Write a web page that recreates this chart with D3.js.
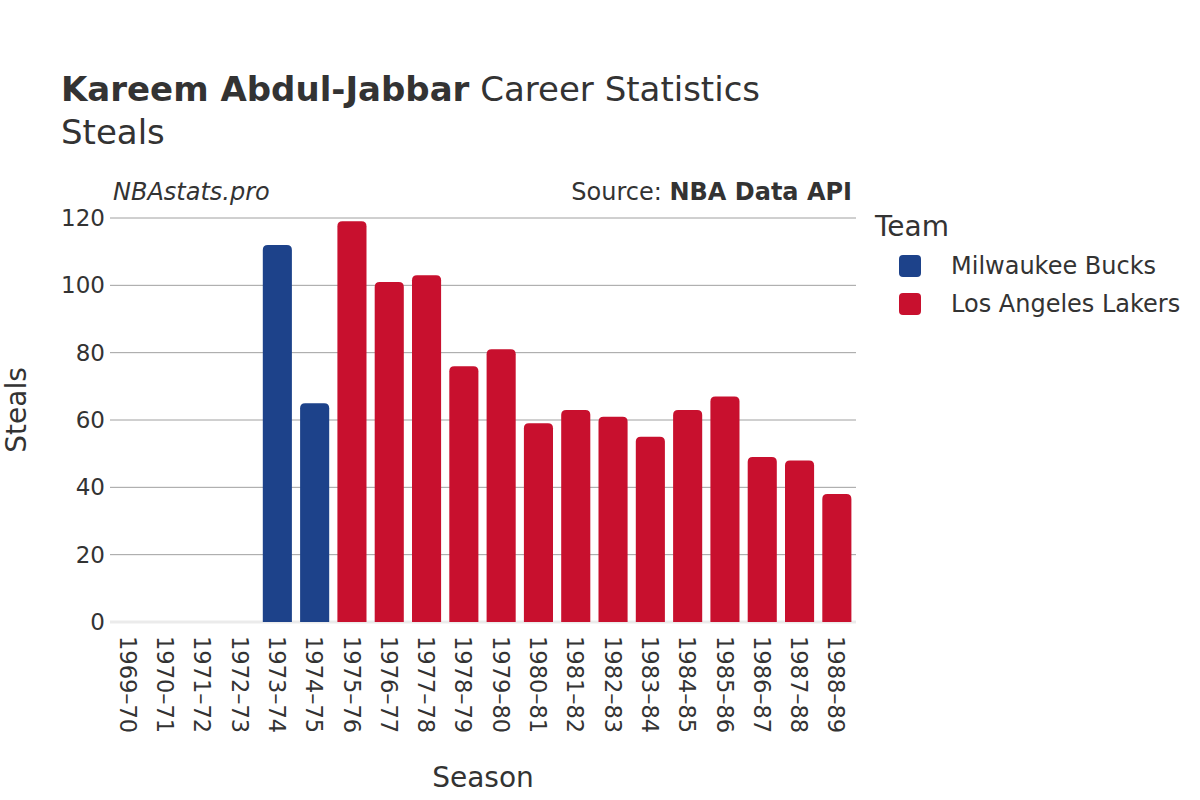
<!DOCTYPE html>
<html>
<head>
<meta charset="utf-8">
<script src="https://cdn.jsdelivr.net/npm/d3@7"></script>
<style>
  body { margin: 0; background: #fff; }
  svg { font-family: "DejaVu Sans", sans-serif; }
</style>
</head>
<body>
<div id="chart"></div>
<script>
// Layout
const width = 1200;
const height = 800;
const margin = { top: 218, right: 344, bottom: 178, left: 110 };

// Data
const seasons = ["1969–70", "1970–71", "1971–72", "1972–73", "1973–74", "1974–75", "1975–76",
  "1976–77", "1977–78", "1978–79", "1979–80", "1980–81", "1981–82", "1982–83", "1983–84",
  "1984–85", "1985–86", "1986–87", "1987–88", "1988–89"];
const teams = ["MIL", "MIL", "MIL", "MIL", "MIL", "MIL", "LAL", "LAL", "LAL", "LAL", "LAL",
  "LAL", "LAL", "LAL", "LAL", "LAL", "LAL", "LAL", "LAL", "LAL"];
const steals = [0, 0, 0, 0, 112, 65, 119, 101, 103, 76, 81, 59, 63, 61, 55, 63, 67, 49, 48, 38];
const yTicks = [0, 20, 40, 60, 80, 100, 120];
const teamNames = { MIL: "Milwaukee Bucks", LAL: "Los Angeles Lakers" };
const teamColors = { MIL: "#1d428a", LAL: "#c8102e" };

const rows = seasons.map((s, i) => ({ season: s, team: teams[i], value: steals[i] }));

const svg = d3.select("#chart").append("svg")
  .attr("width", width)
  .attr("height", height);

const x = d3.scaleBand()
  .domain(seasons)
  .range([margin.left, width - margin.right])
  .paddingInner(0.22)
  .paddingOuter(0.11);

const y = d3.scaleLinear()
  .domain([0, 120])
  .range([height - margin.bottom, margin.top]);

// grid
svg.append("g").selectAll("line").data(yTicks.filter(t => t > 0)).join("line")
  .attr("x1", margin.left).attr("x2", width - margin.right)
  .attr("y1", d => y(d)).attr("y2", d => y(d))
  .attr("stroke", "#a0a0a0").attr("stroke-width", 1);

// zero line
svg.append("line")
  .attr("x1", margin.left).attr("x2", width - margin.right)
  .attr("y1", y(0)).attr("y2", y(0))
  .attr("stroke", "#ebebeb").attr("stroke-width", 3);

// bars with rounded tops
function barPath(d) {
  const x0 = x(d.season) - 0.5, w = x.bandwidth();
  const y0 = y(0), y1 = y(d.value);
  const r = Math.min(5, (y0 - y1) / 2);
  return `M${x0},${y0} V${y1 + r} Q${x0},${y1} ${x0 + r},${y1} H${x0 + w - r} Q${x0 + w},${y1} ${x0 + w},${y1 + r} V${y0} Z`;
}

svg.append("g").selectAll("path").data(rows.filter(d => d.value > 0)).join("path")
  .attr("d", barPath)
  .attr("fill", d => teamColors[d.team]);

// y axis labels
svg.append("g").selectAll("text").data(yTicks).join("text")
  .attr("x", margin.left - 5)
  .attr("y", d => y(d))
  .attr("dy", "0.35em")
  .attr("text-anchor", "end")
  .attr("font-size", 23)
  .attr("fill", "#333")
  .text(d => d);

// x axis labels (rotated)
svg.append("g").selectAll("text").data(seasons).join("text")
  .attr("transform", d => `translate(${x(d) + x.bandwidth() / 2 - 1},${y(0) + 14}) rotate(90)`)
  .attr("dy", "0.35em")
  .attr("text-anchor", "start")
  .attr("font-size", 22.5)
  .attr("fill", "#333")
  .text(d => d);

// axis titles
svg.append("text")
  .attr("x", (margin.left + width - margin.right) / 2)
  .attr("y", 787)
  .attr("text-anchor", "middle")
  .attr("font-size", 28)
  .attr("fill", "#333")
  .text("Season");

svg.append("text")
  .attr("transform", `translate(26,410) rotate(-90)`)
  .attr("text-anchor", "middle")
  .attr("font-size", 28)
  .attr("fill", "#333")
  .text("Steals");

// title
const title = svg.append("text")
  .attr("x", 61).attr("y", 101)
  .attr("font-size", 34)
  .attr("fill", "#333");
title.append("tspan").attr("font-weight", "bold").text("Kareem Abdul-Jabbar");
title.append("tspan").text(" Career Statistics");

svg.append("text")
  .attr("x", 61).attr("y", 144)
  .attr("font-size", 34)
  .attr("fill", "#333")
  .text("Steals");

// watermark + source
svg.append("text")
  .attr("x", 113).attr("y", 200)
  .attr("font-size", 24)
  .attr("font-style", "italic")
  .attr("fill", "#333")
  .text("NBAstats.pro");

const src = svg.append("text")
  .attr("x", 852).attr("y", 200)
  .attr("text-anchor", "end")
  .attr("font-size", 24)
  .attr("fill", "#333");
src.append("tspan").text("Source: ");
src.append("tspan").attr("font-weight", "bold").text("NBA Data API");

// legend
const legend = svg.append("g");
legend.append("text")
  .attr("x", 875).attr("y", 236)
  .attr("font-size", 28)
  .attr("fill", "#333")
  .text("Team");

const legendItems = legend.selectAll("g.item").data(["MIL", "LAL"]).join("g")
  .attr("class", "item")
  .attr("transform", (d, i) => `translate(0,${266 + i * 38})`);

legendItems.append("rect")
  .attr("x", 899).attr("y", -11)
  .attr("width", 22).attr("height", 22)
  .attr("rx", 4)
  .attr("fill", d => teamColors[d]);

legendItems.append("text")
  .attr("x", 951).attr("y", 0)
  .attr("dy", "0.35em")
  .attr("font-size", 24)
  .attr("fill", "#333")
  .text(d => teamNames[d]);
</script>
</body>
</html>
